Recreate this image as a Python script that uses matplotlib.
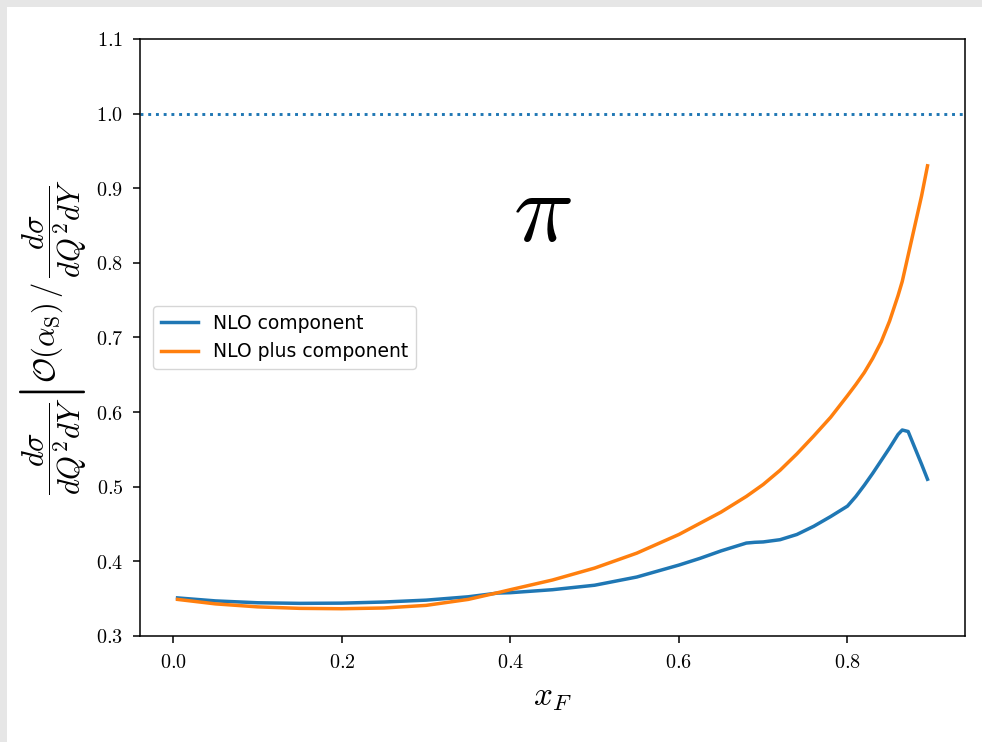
import numpy as np
import matplotlib.pyplot as plt
from matplotlib.patches import Rectangle
from matplotlib.ticker import FuncFormatter, MultipleLocator

plt.rcParams['mathtext.fontset'] = 'cm'

# ratio of NLO pieces to the full O(alpha_S) cross section vs x_F
x_F = [0.005, 0.05, 0.1, 0.15, 0.2, 0.25, 0.3, 0.35, 0.385, 0.4, 0.45, 0.5,
       0.55, 0.6, 0.625, 0.65, 0.67, 0.68, 0.69, 0.7, 0.72, 0.74, 0.76, 0.78,
       0.8, 0.81, 0.82, 0.83, 0.84, 0.85, 0.86, 0.865, 0.872, 0.88, 0.888,
       0.895]
nlo = [0.351, 0.347, 0.3445, 0.3437, 0.344, 0.3455, 0.348, 0.3525, 0.3575,
       0.358, 0.362, 0.368, 0.379, 0.395, 0.404, 0.414, 0.421, 0.4245, 0.4255,
       0.426, 0.429, 0.436, 0.447, 0.460, 0.474, 0.487, 0.502, 0.518, 0.535,
       0.552, 0.570, 0.576, 0.574, 0.552, 0.530, 0.510]
nlo_plus = [0.349, 0.343, 0.339, 0.337, 0.3365, 0.3375, 0.341, 0.349, 0.358,
            0.362, 0.375, 0.391, 0.411, 0.436, 0.451, 0.466, 0.480, 0.487,
            0.495, 0.503, 0.522, 0.544, 0.568, 0.593, 0.622, 0.637, 0.653,
            0.672, 0.694, 0.722, 0.756, 0.775, 0.810, 0.850, 0.890, 0.930]

fig = plt.figure(figsize=(9.82, 7.42), dpi=100, facecolor='#e6e6e6')
fig.patches.append(Rectangle((7 / 982, 0), 1, 1 - 7 / 742, transform=fig.transFigure,
                             facecolor='white', edgecolor='none', zorder=-1))

ax = fig.add_axes([0.1426, 0.1429, 0.8401, 0.8046])
for s in ax.spines.values():
    s.set_linewidth(1.1)

ax.plot(x_F, nlo, color='C0', lw=2.5, label='NLO component')
ax.plot(x_F, nlo_plus, color='C1', lw=2.5, label='NLO plus component')
ax.axhline(1.0, color='C0', ls=':', lw=2.1)

ax.set_ylim(0.3, 1.1)
ax.xaxis.set_major_locator(MultipleLocator(0.2))
ax.yaxis.set_major_locator(MultipleLocator(0.1))
fmt = FuncFormatter(lambda v, pos: r'$%.1f$' % v)
ax.xaxis.set_major_formatter(fmt)
ax.yaxis.set_major_formatter(fmt)
ax.tick_params(labelsize=14.5, length=5, width=1.1, pad=7)

ax.set_xlabel(r'$x_F$', fontsize=24, labelpad=6)
ax.set_ylabel(r'$\left.\dfrac{d\sigma}{dQ^2dY}\right|\mathcal{O}(\alpha_{\rm S})\,/\,\dfrac{d\sigma}{dQ^2dY}$',
              fontsize=22, labelpad=6)

ax.text(0.438, 0.866, r'$\pi$', fontsize=72, ha='center', va='center')

ax.legend(loc='center left', fontsize=13.5, borderaxespad=0.7)

fig.savefig('out.png', dpi=100, facecolor=fig.get_facecolor())
